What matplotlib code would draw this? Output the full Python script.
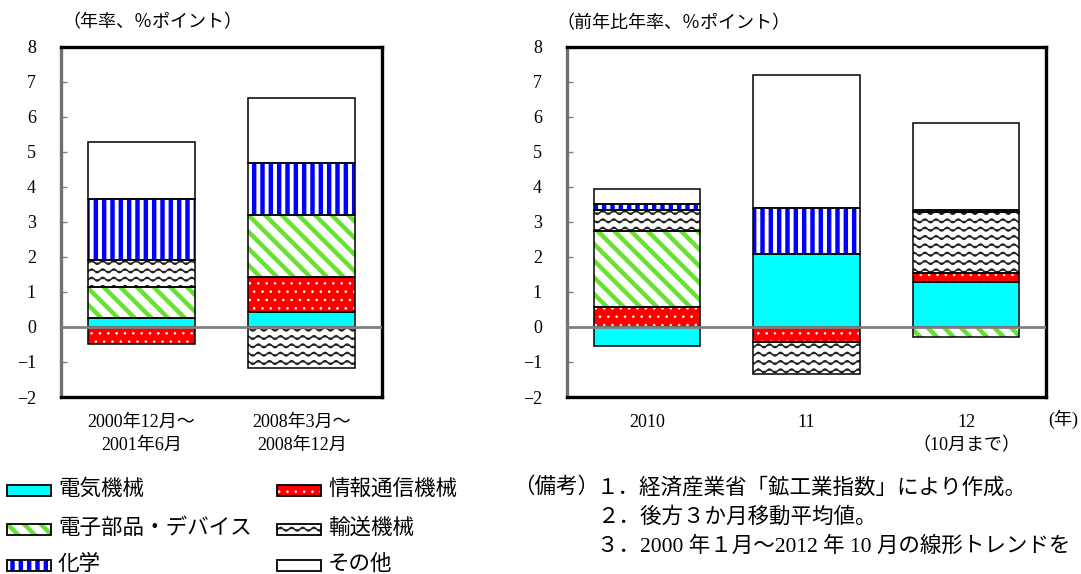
import warnings
import numpy as np
import matplotlib
matplotlib.use("Agg")
import matplotlib.pyplot as plt
import matplotlib.hatch as mhatch
from matplotlib.path import Path
from matplotlib.patches import Rectangle

warnings.filterwarnings("ignore")

# ---------------------------------------------------------------- data
series = ["電気機械", "情報通信機械", "電子部品・デバイス", "輸送機械", "化学", "その他"]

left_labels = ["2000年12月～\n2001年6月", "2008年3月～\n2008年12月"]
left_elec = [0.26, 0.43]
left_ict = [-0.49, 1.00]
left_parts = [0.87, 1.76]
left_trans = [0.79, -1.16]
left_chem = [1.73, 1.48]
left_other = [1.62, 1.86]

right_labels = ["2010", "11", "12\n（10月まで）"]
right_elec = [-0.53, 2.07, 1.28]
right_ict = [0.58, -0.43, 0.26]
right_parts = [2.15, 0.00, -0.30]
right_trans = [0.60, -0.91, 1.73]
right_chem = [0.19, 1.33, 0.06]
right_other = [0.41, 3.80, 2.49]

yticks = [-2, -1, 0, 1, 2, 3, 4, 5, 6, 7, 8]
left_unit = "（年率、％ポイント）"
right_unit = "（前年比年率、％ポイント）"
year_unit = "(年)"
notes_head = "（備考）"
notes = ["１．経済産業省「鉱工業指数」により作成。",
         "２．後方３か月移動平均値。",
         "３．2000 年１月～2012 年 10 月の線形トレンドを"]


# ---------------------------------------------------------------- wave hatch
class WaveHatch(mhatch.HatchPatternBase):
    """Horizontal rows of small sine waves ('~')."""
    periods = 9
    steps = 12

    def __init__(self, hatch, density):
        self.rows = hatch.count("~") * 12
        self.nv = self.periods * self.steps + 1
        self.num_vertices = self.rows * self.nv

    def set_vertices_and_codes(self, vertices, codes):
        x = np.linspace(0.0, 1.0, self.nv)
        for i in range(self.rows):
            y0 = (i + 0.5) / self.rows
            sl = slice(i * self.nv, (i + 1) * self.nv)
            vertices[sl, 0] = x
            vertices[sl, 1] = y0 + 0.018 * np.sin(2 * np.pi * self.periods * x)
            codes[sl] = Path.LINETO
            codes[i * self.nv] = Path.MOVETO


mhatch._hatch_types.append(WaveHatch)

# face colour, hatch colour, hatch pattern, hatch linewidth
STYLES = {
    "電気機械": ("#00FFFF", "#00FFFF", None, 1.0),
    "情報通信機械": ("#FF0000", "white", "..", 0.6),
    "電子部品・デバイス": ("white", "#66E233", "\\\\", 3.2),
    "輸送機械": ("white", "#222222", "~", 1.1),
    "化学": ("white", "#0000FF", "||", 3.2),
    "その他": ("white", "white", None, 1.0),
}

plt.rcParams["font.family"] = ["Liberation Serif", "Noto Sans CJK JP"]
plt.rcParams["axes.unicode_minus"] = True

W, H = 1081, 574
fig = plt.figure(figsize=(W / 100, H / 100), dpi=100)


def px_axes(x0, x1, ytop, ybot):
    return fig.add_axes([x0 / W, 1 - ybot / H, (x1 - x0) / W, (ybot - ytop) / H])


def set_hlw(patch, lw):
    try:
        patch.set_hatch_linewidth(lw)
    except AttributeError:
        pass


def draw_stack(ax, labels, columns):
    x = np.arange(len(labels))
    pos = np.zeros(len(labels))
    neg = np.zeros(len(labels))
    for name, vals in zip(series, columns):
        v = np.asarray(vals, dtype=float)
        bottom = np.where(v >= 0, pos, neg)
        face, hcol, hatch, hlw = STYLES[name]
        with plt.rc_context({"hatch.linewidth": hlw}):
            bars = ax.bar(x, v, 0.665, bottom=bottom, color=face,
                          edgecolor=hcol, hatch=hatch, linewidth=0, zorder=2)
        for p in bars:
            set_hlw(p, hlw)
        lws = np.where(v != 0, 1.1, 0.0)
        ax.bar(x, v, 0.665, bottom=bottom, fill=False, edgecolor="black",
               linewidth=lws, zorder=3)
        pos += np.where(v > 0, v, 0)
        neg += np.where(v < 0, v, 0)
    ax.axhline(0, color="#808080", lw=2.0, zorder=4)
    ax.set_xlim(-0.5, len(labels) - 0.5)
    ax.set_ylim(-2, 8)
    ax.set_yticks(yticks)
    ax.set_yticklabels([f"{t:d}".replace("-", "\u2212") for t in yticks],
                       fontsize=13)
    ax.set_xticks(x)
    ax.set_xticklabels(labels, fontsize=13, linespacing=1.45)
    ax.tick_params(axis="y", direction="in", length=4, width=1,
                   color="#808080", pad=18)
    ax.tick_params(axis="x", length=0, pad=12)
    for s in ["top", "right", "bottom"]:
        ax.spines[s].set_linewidth(2.4)
        ax.spines[s].set_color("black")
    ax.spines["left"].set_linewidth(2.4)
    ax.spines["left"].set_color("#707070")


axL = px_axes(61, 382, 46.7, 397)
draw_stack(axL, left_labels,
           [left_elec, left_ict, left_parts, left_trans, left_chem, left_other])
axR = px_axes(567, 1046, 46.7, 397)
draw_stack(axR, right_labels,
           [right_elec, right_ict, right_parts, right_trans, right_chem, right_other])

fig.text(62 / W, 1 - 23 / H, left_unit, fontsize=13, ha="left", va="center")
fig.text(556 / W, 1 - 24 / H, right_unit, fontsize=13, ha="left", va="center")
fig.text(1063 / W, 1 - 419 / H, year_unit, fontsize=13, ha="center", va="center")

# ---------------------------------------------------------------- legend
leg_x = [7, 277]
leg_y = [490, 529, 565]
order = [(0, 0), (1, 0), (0, 1), (1, 1), (0, 2), (1, 2)]
for name, (c, r) in zip(series, order):
    face, hcol, hatch, hlw = STYLES[name]
    x0 = leg_x[c] / W
    y0 = 1 - (leg_y[r] + 5.5) / H
    w, h = 44 / W, 11 / H
    with plt.rc_context({"hatch.linewidth": hlw}):
        p = Rectangle((x0, y0), w, h, transform=fig.transFigure,
                      facecolor=face, edgecolor=hcol, hatch=hatch, linewidth=0)
    set_hlw(p, hlw)
    fig.add_artist(p)
    fig.add_artist(Rectangle((x0, y0), w, h, transform=fig.transFigure,
                             fill=False, edgecolor="black", linewidth=1.3))
    fig.text((leg_x[c] + 51) / W, 1 - leg_y[r] / H, name, fontsize=15.5,
             ha="left", va="center")

# ---------------------------------------------------------------- notes
fig.text(513 / W, 1 - 488 / H, notes_head, fontsize=15.5, ha="left", va="center")
for i, line in enumerate(notes):
    fig.text(597 / W, 1 - (488 + 29.5 * i) / H, line, fontsize=15.5,
             ha="left", va="center")

fig.savefig("out.png", dpi=100)
